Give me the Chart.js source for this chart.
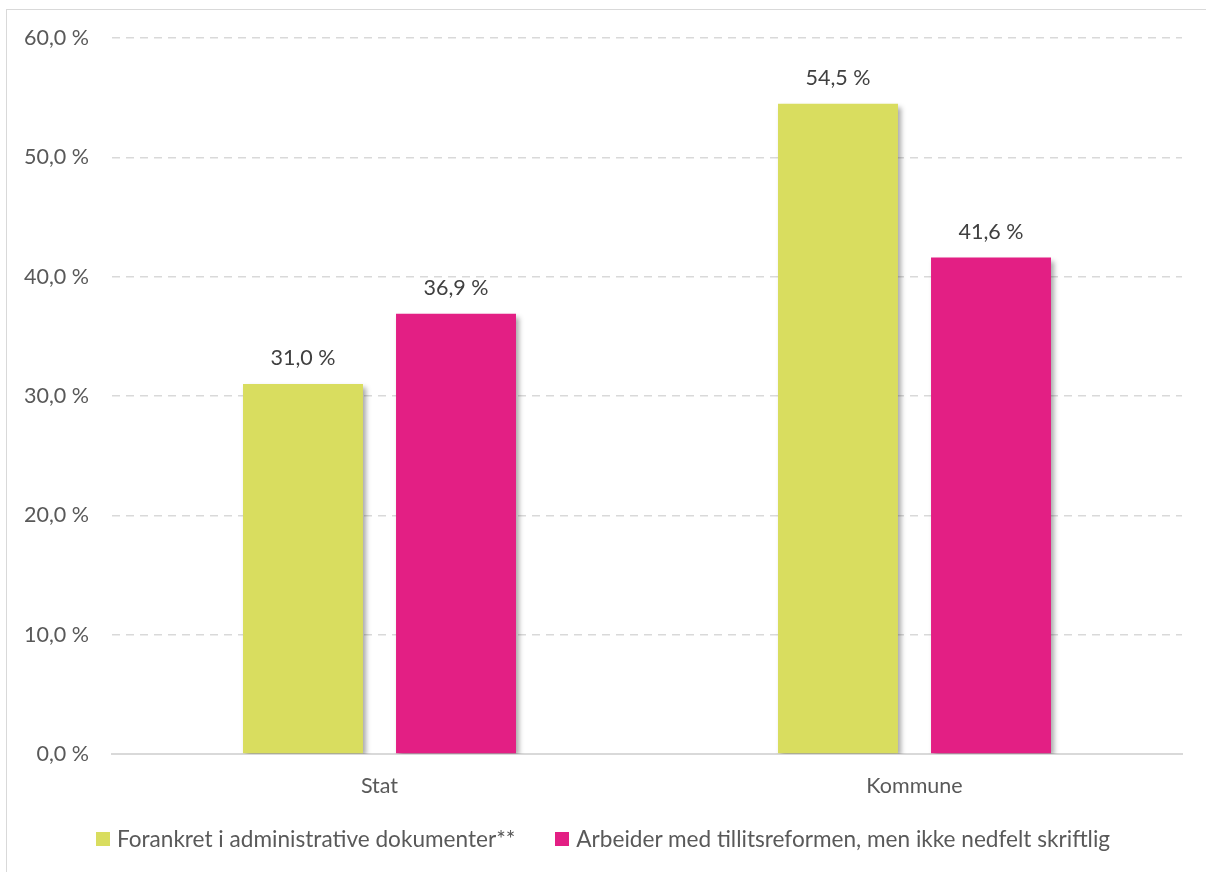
<!DOCTYPE html>
<html lang="no">
<head>
<meta charset="utf-8">
<title>Tillitsreformen</title>
<script src="https://cdn.jsdelivr.net/npm/chart.js@4"></script>
<style>
    html, body { margin: 0; padding: 0; background: #fff; }
    body { width: 1206px; height: 872px; position: relative; overflow: hidden; font-family: Lato, sans-serif; }
    .frame { position: absolute; left: 6px; top: 9px; width: 1210px; height: 880px; border: 1px solid #d9d9d9; box-sizing: border-box; }
    #chartWrap { position: absolute; left: 0; top: 0; width: 1206px; height: 872px; }
    #legend { position: absolute; left: 0; top: 825px; width: 1206px; display: flex; justify-content: center; gap: 40px; color: #595959; font-size: 22.6px; }
    #legend span.item { display: flex; align-items: center; }
    #legend span.box { width: 14px; height: 14px; margin-right: 7px; display: inline-block; }
</style>
</head>
<body>
<div class="frame"></div>
<div id="chartWrap"><canvas id="barChart" width="1206" height="872"></canvas></div>
<div id="legend"></div>

<script>
// Data
const categories = ['Stat', 'Kommune'];
const seriesNames = ['Forankret i administrative dokumenter**', 'Arbeider med tillitsreformen, men ikke nedfelt skriftlig'];
const forankret = [31.0, 54.5];
const arbeider = [36.9, 41.6];
const seriesColors = ['#D9DD5F', '#E31F84'];

const FONT_SIZE = 21.5;

function pct(v) {
    return v.toFixed(1).replace('.', ',') + ' %';
}

// Soft drop shadow behind the bars, value labels on top
const barShadow = {
    id: 'barShadow',
    beforeDatasetsDraw(chart) {
        const ctx = chart.ctx;
        ctx.save();
        ctx.shadowColor = 'rgba(0, 0, 0, 0.35)';
        ctx.shadowBlur = 5;
        ctx.shadowOffsetX = 3;
        ctx.shadowOffsetY = 3;
    },
    afterDatasetsDraw(chart) {
        const ctx = chart.ctx;
        ctx.restore();
        ctx.save();
        ctx.font = FONT_SIZE + 'px Lato';
        ctx.fillStyle = '#404040';
        ctx.textAlign = 'center';
        ctx.textBaseline = 'middle';
        chart.data.datasets.forEach((ds, i) => {
            chart.getDatasetMeta(i).data.forEach((bar, j) => {
                ctx.fillText(pct(ds.data[j]), bar.x, bar.y - 26);
            });
        });
        ctx.restore();
    }
};

const chart = new Chart(document.getElementById('barChart'), {
    type: 'bar',
    data: {
        labels: categories,
        datasets: [
            { label: seriesNames[0], data: forankret, backgroundColor: seriesColors[0] },
            { label: seriesNames[1], data: arbeider, backgroundColor: seriesColors[1] }
        ]
    },
    options: {
        responsive: false,
        animation: false,
        categoryPercentage: 0.572,
        barPercentage: 0.784,
        layout: { padding: { top: 38, right: 24, bottom: 68, left: 0 } },
        plugins: {
            legend: { display: false },
            tooltip: { enabled: false }
        },
        scales: {
            x: {
                grid: { display: false },
                border: { display: true, color: '#d9d9d9', width: 2 },
                ticks: { color: '#595959', font: { family: 'Lato', size: FONT_SIZE }, padding: 11 },
                afterFit: s => { s.height = 50; }
            },
            y: {
                min: 0,
                max: 60,
                grid: { color: '#d9d9d9', lineWidth: 1.5, drawTicks: false },
                border: { display: false, dash: [8, 6] },
                ticks: {
                    stepSize: 10,
                    padding: 23,
                    color: '#595959',
                    font: { family: 'Lato', size: FONT_SIZE },
                    callback: v => pct(v)
                },
                afterFit: s => { s.width = 112; }
            }
        }
    },
    plugins: [barShadow]
});

// Legend below the chart
const legend = document.getElementById('legend');
chart.data.datasets.forEach(ds => {
    const item = document.createElement('span');
    item.className = 'item';
    const box = document.createElement('span');
    box.className = 'box';
    box.style.background = ds.backgroundColor;
    item.appendChild(box);
    item.appendChild(document.createTextNode(ds.label));
    legend.appendChild(item);
});
</script>
</body>
</html>
